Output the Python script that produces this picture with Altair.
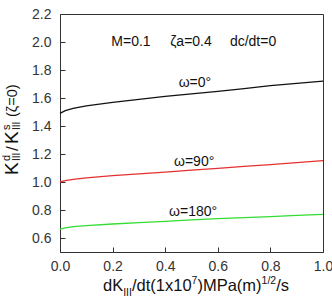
import altair as alt
import pandas as pd

# ---- data ----
x_vals = [0.0, 0.02, 0.05, 0.1, 0.2, 0.3, 0.4, 0.5, 0.6, 0.7, 0.8, 0.9, 1.0]
w0 = [1.49, 1.51, 1.526, 1.543, 1.568, 1.590, 1.612, 1.630, 1.647, 1.667, 1.688, 1.704, 1.72]
w90 = [1.0, 1.01, 1.019, 1.03, 1.045, 1.058, 1.071, 1.085, 1.098, 1.111, 1.124, 1.138, 1.152]
w180 = [0.664, 0.672, 0.681, 0.688, 0.70, 0.71, 0.719, 0.729, 0.738, 0.745, 0.752, 0.761, 0.769]
series_names = ["ω=0°", "ω=90°", "ω=180°"]
series_colors = ["#111111", "#e53030", "#33dd33"]

label_text = ["ω=0°", "ω=90°", "ω=180°"]
label_x = [0.513, 0.51, 0.506]
label_y = [1.705, 1.143, 0.786]

note_text = ["M=0.1", "ζa=0.4", "dc/dt=0"]
note_x = [0.27, 0.498, 0.734]
note_y = [2.0, 2.0, 2.0]

x_ticks = [0.0, 0.2, 0.4, 0.6, 0.8, 1.0]
y_ticks = [0.6, 0.8, 1.0, 1.2, 1.4, 1.6, 1.8, 2.0, 2.2]

rows = []
for name, ys in zip(series_names, [w0, w90, w180]):
    for xv, yv in zip(x_vals, ys):
        rows.append({"x": xv, "y": yv, "s": name})
df = pd.DataFrame(rows)

W, H = 263, 238
FONT = "Liberation Sans"

xs = alt.Scale(domain=[0, 1], nice=False, zero=False)
ys_ = alt.Scale(domain=[0.5, 2.2], nice=False, zero=False)

x_axis = alt.Axis(values=x_ticks, format=".1f", domain=False, grid=False,
                  offset=-5, tickSize=5, tickColor="#333", labelPadding=7,
                  labelFlush=False, labelOverlap=False,
                  labelFont=FONT, labelFontSize=14, labelColor="#333")
y_axis = alt.Axis(values=y_ticks, format=".1f", domain=False, grid=False,
                  offset=-5, tickSize=5, tickColor="#333", labelPadding=9,
                  labelFlush=False, labelOverlap=False,
                  labelFont=FONT, labelFontSize=14, labelColor="#333")

X = alt.X("x:Q", scale=xs, title="", axis=x_axis)
Y = alt.Y("y:Q", scale=ys_, title="", axis=y_axis)

lines = alt.Chart(df).mark_line(strokeWidth=1.3).encode(
    x=X, y=Y,
    color=alt.Color("s:N", scale=alt.Scale(domain=series_names, range=series_colors), legend=None),
    detail="s:N",
)

labels = alt.Chart(pd.DataFrame({"t": label_text, "x": label_x, "y": label_y})).mark_text(
    font=FONT, fontSize=14, baseline="middle", align="center", color="#111"
).encode(x=X, y=Y, text="t:N")

notes = alt.Chart(pd.DataFrame({"t": note_text, "x": note_x, "y": note_y})).mark_text(
    font=FONT, fontSize=14, baseline="middle", align="center", color="#111"
).encode(x=X, y=Y, text="t:N")

# ---- rich axis titles built from text pieces ----
AW = {'d': 556, 'K': 667, 'I': 278, '/': 278, 't': 278, '(': 333, ')': 333, '1': 556,
      'x': 500, '0': 556, '7': 556, 'M': 833, 'P': 667, 'a': 556, 'm': 833, '2': 556, 's': 500}


def piece(text, px, py, size, dx=0, dy=0, angle=0):
    return alt.Chart(alt.Data(values=[{"t": text}])).mark_text(
        font=FONT, fontSize=size, align="left", baseline="alphabetic",
        dx=dx, dy=dy, angle=angle, color="#111"
    ).encode(x=alt.value(px), y=alt.value(py), text="t:N")


main, small = 16.5, 10.5
x_chunks = [("dK", main, 0), ("III", small, 5), ("/dt(1x10", main, 0), ("7", small, -7),
            (")MPa(m)", main, 0), ("1/2", small, -7), ("/s", main, 0)]
xt_layers = []
cur = 43.0
for txt, sz, dy in x_chunks:
    xt_layers.append(piece(txt, cur, 277, sz, dy=dy))
    cur += sum(AW.get(c, 556) for c in txt) / 1000.0 * sz

# y title: rotated, reading bottom to top; dx runs along the text
yx, yy = -42, 161
y_chunks = [("K", 19, 0, 0), ("d", 11, 14, -8), ("III", 10, 14, 2), ("/", 17, 24, 0),
            ("K", 19, 31, 0), ("s", 11, 45, -8), ("III", 10, 45, 2), ("(ζ=0)", 14.5, 58, -1)]
yt_layers = [piece(t, yx, yy, sz, dx=dx, dy=dy, angle=270) for t, sz, dx, dy in y_chunks]

chart = alt.layer(lines, labels, notes, *xt_layers, *yt_layers).properties(
    width=W, height=H,
    autosize=alt.AutoSizeParams(type="none"),
    padding={"left": 60, "top": 14, "right": 9, "bottom": 45},
    background="white",
).configure_view(stroke="#333", strokeWidth=1)

chart.save("out.html", embed_options={"renderer": "svg", "actions": False})
